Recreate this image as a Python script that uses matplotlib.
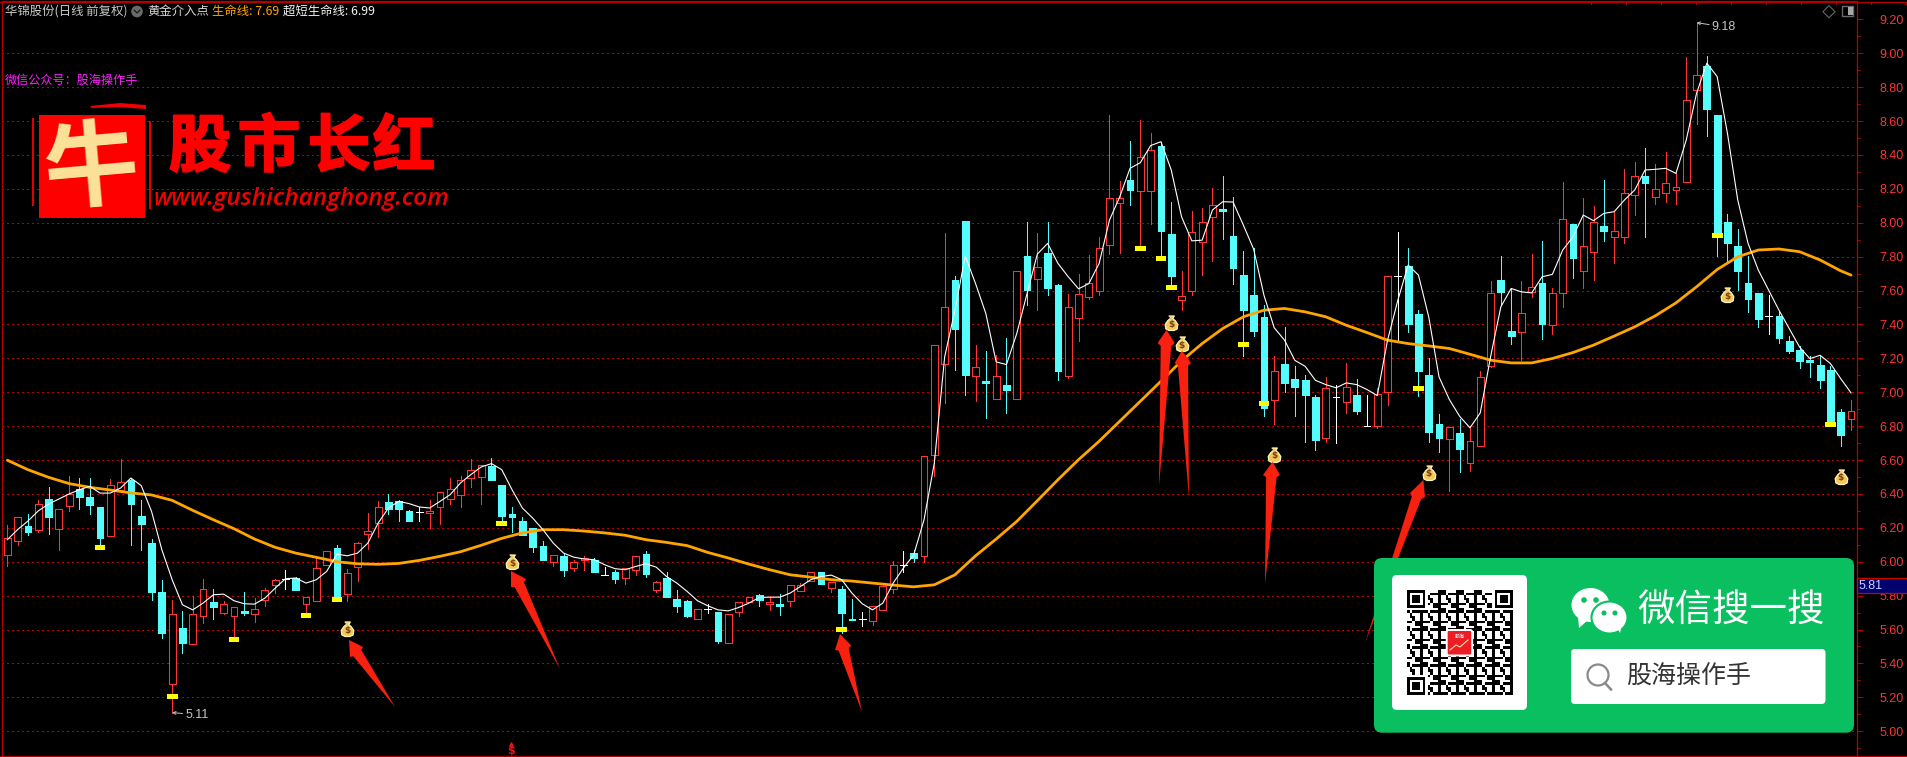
import matplotlib
matplotlib.use("Agg")
import matplotlib.pyplot as plt
import numpy as np
from matplotlib.patches import FancyBboxPatch, Polygon, Rectangle, Ellipse, Circle
from matplotlib.ticker import MultipleLocator, FormatStrFormatter
import matplotlib.patheffects as pe

CJK = ['Noto Sans CJK SC', 'DejaVu Sans']
plt.rcParams['font.family'] = CJK

# ---------- candle data (price values) ----------
candle_kind = ("RRCRCRRCCC" "RRCCCCRCRR" "CRRCRRRWCR" "RRCRRRRCCC" "WRRRRRRCCC"
               "CCCRCRRCWC" "RRCRCCCRWC" "RRRCRCRRRC" "RCCWRRRWCR" "RRCCRCRCRC"
               "RCCRRRRRRC" "RRCCRRRRCC" "CCCRCCCCRW" "RCWRRWCCCC" "RCRRRCCRRC"
               "RRCRRCRRRC" "RRRRRCCCCC" "CWCCCCCCCR")
body_high = [6.138,6.264,6.213,6.34,6.372,6.311,6.40,6.429,6.384,6.325,
             6.451,6.47,6.484,6.272,6.112,5.823,5.691,5.61,5.691,5.84,
             5.764,5.75,5.732,5.708,5.72,5.833,5.892,5.90,5.904,5.791,
             5.963,6.063,6.083,5.933,6.11,6.179,6.323,6.352,6.356,6.301,
             6.293,6.30,6.411,6.429,6.482,6.541,6.571,6.563,6.455,6.282,
             6.242,6.199,6.095,6.04,6.036,5.996,6.02,6.012,5.92,5.941,
             5.961,6.032,6.045,5.88,5.906,5.782,5.766,5.72,5.724,5.705,
             5.691,5.762,5.791,5.803,5.762,5.75,5.862,5.862,5.939,5.939,
             5.882,5.841,5.664,5.662,5.736,5.854,5.98,5.98,6.053,6.624,
             7.281,7.50,7.661,8.01,7.149,7.065,7.098,7.045,7.714,7.803,
             7.74,7.819,7.632,7.50,7.582,7.647,7.848,8.143,8.143,8.252,
             8.39,8.431,8.453,7.933,7.57,7.943,8.002,8.102,8.08,7.921,
             7.691,7.572,7.442,7.123,7.169,7.08,7.075,6.973,7.026,6.973,
             7.032,6.986,6.801,6.992,7.687,7.687,7.746,7.461,7.10,6.815,
             6.795,6.76,6.713,7.087,7.583,7.662,7.36,7.47,7.618,7.642,
             7.583,8.02,7.992,7.86,8.002,7.98,7.949,8.173,8.274,8.276,
             8.201,8.232,8.209,8.722,8.87,8.925,8.636,8.004,7.862,7.644,
             7.583,7.447,7.449,7.301,7.252,7.19,7.16,7.13,6.886,6.888]
body_low = [6.04,6.12,6.173,6.19,6.266,6.193,6.327,6.384,6.333,6.138,
            6.15,6.421,6.343,6.224,5.823,5.58,5.276,5.521,5.515,5.677,
            5.734,5.70,5.677,5.70,5.691,5.775,5.86,5.90,5.835,5.75,
            5.766,5.978,5.791,5.807,5.967,6.161,6.228,6.313,6.313,6.242,
            6.293,6.29,6.321,6.368,6.392,6.492,6.498,6.482,6.272,6.266,
            6.158,6.087,6.012,5.996,5.953,5.961,6.01,5.937,5.92,5.896,
            5.902,5.951,5.927,5.835,5.793,5.74,5.681,5.66,5.724,5.534,
            5.52,5.703,5.76,5.774,5.748,5.74,5.766,5.829,5.886,5.866,
            5.847,5.695,5.654,5.662,5.648,5.717,5.839,5.98,6.024,6.032,
            6.628,7.169,7.372,7.10,7.098,7.055,6.96,7.016,6.96,7.602,
            7.669,7.616,7.125,7.096,7.44,7.559,7.598,7.87,8.118,8.193,
            8.189,8.189,7.95,7.685,7.545,7.60,7.887,8.031,8.07,7.734,
            7.484,7.362,6.908,6.953,7.055,7.032,6.986,6.717,6.729,6.973,
            6.941,6.892,6.801,6.799,7.0,7.687,7.401,7.126,6.764,6.728,
            6.725,6.664,6.583,6.681,7.156,7.591,7.333,7.356,7.593,7.402,
            7.398,7.583,7.793,7.718,7.829,7.951,7.917,7.917,8.161,8.236,
            8.15,8.173,8.191,8.242,8.781,8.673,7.947,7.882,7.717,7.551,
            7.431,7.447,7.319,7.244,7.185,7.18,7.07,6.831,6.746,6.843]
wick_high = [6.217,6.264,6.282,6.364,6.443,6.311,6.506,6.496,6.496,6.325,
             6.49,6.606,6.494,6.366,6.136,5.894,5.776,5.71,5.799,5.90,
             5.84,5.766,5.732,5.823,5.785,5.845,5.898,5.953,5.91,5.791,
             6.022,6.063,6.10,5.957,6.116,6.288,6.356,6.40,6.364,6.305,
             6.323,6.364,6.411,6.496,6.508,6.606,6.571,6.614,6.455,6.325,
             6.266,6.199,6.122,6.04,6.051,6.012,6.032,6.022,5.969,5.953,
             5.961,6.032,6.065,5.888,5.937,5.835,5.772,5.72,5.75,5.705,
             5.691,5.762,5.791,5.811,5.799,5.811,5.862,5.874,5.939,5.939,
             5.882,5.854,5.782,5.705,5.74,5.854,6.002,6.065,6.071,6.624,
             7.281,7.937,7.683,8.01,7.277,7.242,7.222,7.32,7.714,8.002,
             7.937,8.002,7.641,7.578,7.695,7.807,7.913,8.636,8.246,8.482,
             8.604,8.527,8.478,8.122,7.716,8.071,8.084,8.202,8.275,8.153,
             7.832,7.848,7.513,7.212,7.382,7.153,7.10,6.986,7.09,7.04,
             7.175,7.08,6.986,7.026,7.687,7.945,7.85,7.484,7.199,6.874,
             6.795,6.843,6.799,7.126,7.656,7.803,7.612,7.656,7.815,7.892,
             7.612,8.24,7.992,8.146,8.098,8.252,8.065,8.317,8.356,8.441,
             8.346,8.417,8.291,8.978,9.18,8.984,8.636,8.051,7.962,7.803,
             7.583,7.573,7.474,7.331,7.272,7.213,7.213,7.153,6.902,6.957]
wick_low = [5.973,6.097,6.156,6.173,6.165,6.067,6.297,6.313,6.283,6.09,
            6.15,6.421,6.10,6.067,5.772,5.553,5.11,5.464,5.515,5.638,
            5.663,5.691,5.547,5.683,5.642,5.736,5.815,5.839,5.835,5.687,
            5.766,5.978,5.791,5.766,5.884,6.075,6.144,6.283,6.238,6.238,
            6.242,6.20,6.224,6.343,6.325,6.443,6.343,6.482,6.238,6.173,
            6.158,6.055,6.012,5.973,5.914,5.943,5.953,5.937,5.92,5.872,
            5.866,5.923,5.909,5.823,5.793,5.705,5.675,5.66,5.697,5.522,
            5.524,5.681,5.76,5.74,5.713,5.685,5.736,5.829,5.886,5.866,
            5.823,5.577,5.654,5.622,5.624,5.717,5.813,5.937,5.996,5.998,
            6.504,6.937,7.13,6.986,6.947,6.846,6.96,6.878,6.96,7.513,
            7.484,7.572,7.07,7.084,7.303,7.551,7.572,7.815,7.822,8.104,
            7.848,7.992,7.789,7.622,7.484,7.572,7.69,7.775,7.903,7.641,
            7.212,7.33,6.862,6.815,7.0,6.858,6.705,6.662,6.705,6.70,
            6.878,6.874,6.801,6.788,6.927,7.30,7.356,6.977,6.705,6.646,
            6.416,6.528,6.534,6.681,7.15,7.52,7.284,7.193,7.563,7.313,
            7.343,7.504,7.675,7.616,7.661,7.892,7.764,7.882,8.045,7.917,
            8.11,8.122,8.11,8.242,8.583,8.514,7.805,7.77,7.602,7.474,
            7.386,7.346,7.291,7.232,7.144,7.09,7.026,6.80,6.685,6.78]
short_line = [6.13,6.19,6.24,6.30,6.34,6.37,6.40,6.425,6.445,6.405,
              6.405,6.435,6.494,6.449,6.297,6.071,5.894,5.746,5.716,5.756,
              5.805,5.809,5.77,5.752,5.75,5.785,5.844,5.90,5.904,5.874,
              5.894,5.943,6.045,6.035,6.051,6.11,6.228,6.317,6.356,6.343,
              6.323,6.317,6.356,6.396,6.465,6.514,6.559,6.579,6.543,6.425,
              6.317,6.258,6.189,6.11,6.051,6.027,6.016,6.012,5.982,5.959,
              5.953,5.972,5.988,5.968,5.913,5.874,5.825,5.77,5.74,5.716,
              5.71,5.73,5.756,5.789,5.791,5.791,5.815,5.854,5.894,5.913,
              5.921,5.894,5.815,5.752,5.716,5.756,5.874,5.963,6.041,6.248,
              6.583,7.208,7.484,7.803,7.641,7.464,7.179,7.163,7.346,7.582,
              7.815,7.878,7.76,7.681,7.61,7.641,7.76,8.015,8.153,8.321,
              8.354,8.455,8.478,8.311,8.035,7.893,7.897,8.075,8.124,8.122,
              7.986,7.844,7.572,7.38,7.307,7.188,7.153,7.07,7.045,7.026,
              7.055,7.045,7.016,6.98,7.307,7.543,7.75,7.691,7.444,7.09,
              6.957,6.858,6.79,6.878,7.208,7.504,7.612,7.592,7.586,7.681,
              7.695,7.838,7.917,8.045,8.012,8.055,8.065,8.134,8.193,8.311,
              8.315,8.321,8.291,8.488,8.764,8.941,8.862,8.527,8.134,7.878,
              7.72,7.602,7.484,7.376,7.267,7.198,7.218,7.169,7.08,6.996]
life_index = list(range(0, 180, 2)) + [179]
life_line = [6.599,6.543,6.498,6.461,6.439,6.423,6.406,6.394,6.362,6.303,
             6.248,6.195,6.134,6.085,6.051,6.026,6.0,5.988,5.985,5.99,
             6.008,6.032,6.059,6.097,6.138,6.17,6.189,6.189,6.181,6.17,
             6.156,6.13,6.114,6.095,6.055,6.022,5.986,5.953,5.923,5.909,
             5.894,5.886,5.874,5.862,5.852,5.864,5.923,6.035,6.134,6.238,
             6.36,6.484,6.602,6.711,6.829,6.947,7.065,7.185,7.287,7.376,
             7.445,7.484,7.494,7.474,7.445,7.395,7.352,7.307,7.287,7.273,
             7.258,7.224,7.189,7.173,7.173,7.199,7.234,7.278,7.331,7.386,
             7.451,7.527,7.622,7.724,7.799,7.839,7.845,7.829,7.78,7.716,7.691]
yellow_index = [9,16,22,29,32,48,81,110,112,113,120,122,137,166,177]
yellow_value = [6.083,5.203,5.539,5.681,5.776,6.228,5.599,7.848,7.789,7.618,7.281,6.933,7.022,7.925,6.811]
bag_index = [33,49,113,114,123,138,167,178]
bag_value = [5.595,5.992,7.402,7.277,6.626,6.518,7.567,6.494]
title_items = ["华锦股份(日线 前复权)", "黄金介入点", "生命线: 7.69", "超短生命线: 6.99"]

W, H = 1908, 757
RED = '#FF3434'
CYAN = '#54FCFC'
AXRED = '#B00000'
fig = plt.figure(figsize=(W/100, H/100), dpi=100, facecolor='black')
L, R, T, B = 2.4, 1857.5, 1.5, 756.0
ax = fig.add_axes([L/W, 1-B/H, (R-L)/W, (B-T)/H], facecolor='black', zorder=1)
ax.set_xlim((L-7.35)/10.3, (R-7.35)/10.3)
ax.set_ylim(4.854, 9.305)
ax.xaxis.set_visible(False)
ax.yaxis.tick_right()
ax.yaxis.set_major_locator(MultipleLocator(0.2))
ax.yaxis.set_minor_locator(MultipleLocator(0.1))
ax.yaxis.set_major_formatter(FormatStrFormatter('%.2f'))
ax.tick_params(axis='y', which='major', length=4.3, width=0.72, color=AXRED, pad=11.5,
               labelcolor=RED, labelsize=9)
ax.tick_params(axis='y', which='minor', length=1.8, width=0.72, color=AXRED)
for lab in ax.get_yticklabels():
    lab.set_fontfamily('Liberation Sans')
for s in ax.spines.values():
    s.set_color(AXRED)
    s.set_linewidth(0.9)

for v in np.arange(5.0, 9.01, 0.2):
    ax.axhline(v, color='#B80000', lw=0.72, ls=(0, (1.2, 3.2)), zorder=1, antialiased=False)

idx = np.arange(len(body_high))
bw = 0.66
for i, k, bh, bl, wh, wl in zip(idx, candle_kind, body_high, body_low, wick_high, wick_low):
    if k == 'W':
        ax.vlines(i, wl, wh, color='white', lw=0.72, zorder=3, antialiased=False)
        ax.hlines(bh, i-bw/2, i+bw/2, color='white', lw=0.72, zorder=3, antialiased=False)
    elif k == 'C':
        ax.vlines(i, wl, wh, color=CYAN, lw=0.72, zorder=3, antialiased=False)
        ax.add_patch(Rectangle((i-bw/2, bl), bw, max(bh-bl, 0.008), fc=CYAN, ec=CYAN, lw=0.5,
                               zorder=4, antialiased=False))
    else:
        ax.vlines(i, wl, bl, color=RED, lw=0.72, zorder=3, antialiased=False)
        ax.vlines(i, bh, wh, color=RED, lw=0.72, zorder=3, antialiased=False)
        ax.add_patch(Rectangle((i-bw/2, bl), bw, max(bh-bl, 0.008), fc='black', ec=RED, lw=0.72,
                               zorder=4, antialiased=False))

ax.bar(yellow_index, [0.03]*len(yellow_index), bottom=[v-0.015 for v in yellow_value],
       width=1.05, color='#FFFF00', zorder=5)
ax.plot(life_index, life_line, color='#FFA500', lw=2.0, zorder=6, solid_capstyle='round', solid_joinstyle='round')
ax.plot(idx, short_line, color='white', lw=0.8, zorder=7)

# money bags
bag = np.array([(-.45,1.35),(.45,1.35),(.2,.95),(.6,.6),(1,0),(.9,-.7),(.4,-.95),(-.4,-.95),
                (-.9,-.7),(-1,0),(-.6,.6),(-.2,.95)])
ax.scatter(bag_index, bag_value, marker=bag, s=150, facecolor='#F3C85A', edgecolor='#FFF4B8',
           linewidth=0.9, zorder=9)
for i, v in zip(bag_index, bag_value):
    ax.text(i, v, '$', color='#7A3E10', fontsize=6.5, fontweight='bold', ha='center', va='center',
            family='DejaVu Sans', zorder=10)

# extreme labels
GREY = '#C4C4C4'
ax.annotate('5.11', xy=(16, 5.11), xytext=(9.5, -1.5), textcoords='offset points', color=GREY,
            fontsize=9, family='Liberation Sans', va='center',
            arrowprops=dict(arrowstyle='->', color=GREY, lw=0.7, shrinkA=0, shrinkB=0, mutation_scale=5), zorder=9)
ax.annotate('9.18', xy=(164, 9.18), xytext=(11, -3), textcoords='offset points', color=GREY,
            fontsize=9, family='Liberation Sans', va='center',
            arrowprops=dict(arrowstyle='->', color=GREY, lw=0.7, shrinkA=0, shrinkB=0, mutation_scale=5), zorder=9)

# ---------- overlay in pixel coordinates ----------
ov = fig.add_axes([0, 0, 1, 1], zorder=2)
ov.set_xlim(0, W)
ov.set_ylim(H, 0)
ov.axis('off')
ov.patch.set_alpha(0)

# frame lines continue across the price scale
ov.plot([0, W], [1.5, 1.5], color=AXRED, lw=0.9)
ov.plot([0, W], [756, 756], color=AXRED, lw=0.9)
for x in np.arange(1591.5, W, 35):
    ov.plot([x, x], [1.5, 4], color=AXRED, lw=0.8)

# header
def head(x, s, c):
    ov.text(x, 11.5, s, color=c, fontsize=8.9, va='center', ha='left', family=CJK)
head(5, title_items[0], '#C8C8C8')
ov.add_patch(Circle((137, 11.5), 5.8, fc='#6A6A6A', ec='none'))
ov.plot([134.2, 137, 139.8], [10.2, 13, 10.2], color='#111111', lw=0.8)
head(147, title_items[1], '#D8D8D8')
head(212, title_items[2], '#FFA500')
head(283, title_items[3], '#F0F0F0')
ov.text(5, 80, "微信公众号：股海操作手", color='#FF20FF', fontsize=8.7, va='center', ha='left', family=CJK)

# top right buttons
ov.scatter([1829], [11.7], marker='D', s=38, facecolor='none', edgecolor='#666666', linewidth=0.8)
ov.add_patch(Rectangle((1842.3, 6), 11, 10, fc='none', ec='#6A6A6A', lw=1))
ov.add_patch(Rectangle((1848, 7), 4.8, 8, fc='#A8A8A8', ec='none'))

# logo
ov.add_patch(Rectangle((39, 115), 106, 103, fc='#FF0000', ec='none'))
ov.add_patch(Rectangle((32.5, 118), 2, 88, fc='#E00000', ec='none'))
ov.add_patch(Rectangle((149, 121), 2.5, 88, fc='#E00000', ec='none'))
ov.add_patch(Polygon([(90, 106), (120, 103), (146, 105), (146, 109), (118, 107), (92, 108)], fc='#F00000', ec='none'))
ov.text(91, 171, "牛", color='#FBE39A', fontsize=68, fontweight='bold', ha='center', va='center',
        family=CJK, rotation=5)
for cx, ch in zip((200, 269, 339, 404), "股市长红"):
    t = ov.text(cx, 148, ch, color='#FF0000', fontsize=45, fontweight='bold', ha='center', va='center', family=CJK)
    t.set_path_effects([pe.withStroke(linewidth=1.5, foreground='#FF0000')])
ov.text(302, 199, "www.gushichanghong.com", color='#F00000', fontsize=17.6, style='italic', fontweight=600,
        ha='center', va='center', family='Open Sans')

# red arrows
def arrow(tip, br, tail, bl):
    tip, br, tail, bl = map(np.array, (tip, br, tail, bl))
    mid = (br + bl) / 2
    nr = mid + 0.62*(br-mid) + 0.02*(tail-mid)
    nl = mid + 0.62*(bl-mid) + 0.02*(tail-mid)
    ov.add_patch(Polygon([tip, br, nr, tail, nl, bl], fc='#F8200F', ec='none', zorder=5))
arrow((349, 640), (363, 647), (395, 707), (350, 657))
arrow((511, 571), (526, 579), (560, 669), (511, 587))
arrow((840, 634), (851.4, 645.7), (862, 712), (835, 650))
arrow((1166.5, 330), (1174.7, 343), (1159, 485.7), (1157.6, 343))
arrow((1182, 350.7), (1191, 363), (1189, 498), (1174.7, 363))
arrow((1272.6, 461.7), (1280, 475), (1265, 584), (1263, 475))
arrow((1423.4, 480), (1425, 497), (1365, 643), (1410, 493))

# bottom S marker
ov.text(511, 751, "$", color='#F01010', fontsize=8, fontweight='bold', ha='center', va='center', family='DejaVu Sans')
ov.scatter([511], [743.5], marker='^', s=6, color='#F01010')

# last price box
ov.add_patch(Rectangle((1857.5, 578), 51, 15, fc='#00006E', ec='#D00000', lw=0.9, zorder=6))
ov.text(1859, 585.8, "5.81", color='#C8D0FF', fontsize=9, va='center', ha='left', family='Liberation Sans', zorder=7)

# WeChat card
GREEN = '#0ABF5F'
ov.add_patch(FancyBboxPatch((1374, 558), 480, 174.7, boxstyle='round,pad=0,rounding_size=8', fc=GREEN, ec='none', zorder=8))
ov.add_patch(FancyBboxPatch((1392, 575), 135, 135, boxstyle='round,pad=0,rounding_size=5', fc='white', ec='none', zorder=9))
ov.add_patch(FancyBboxPatch((1571, 649), 254.5, 55, boxstyle='round,pad=0,rounding_size=4', fc='white', ec='none', zorder=9))
# bubbles
ov.add_patch(Ellipse((1590.5, 605), 38, 34, fc='white', ec='none', zorder=9))
ov.add_patch(Polygon([(1578, 617), (1579, 628), (1588, 620)], fc='white', ec='none', zorder=9))
ov.add_patch(Ellipse((1609.5, 617.5), 36, 32, fc='white', ec=GREEN, lw=1.5, zorder=10))
ov.add_patch(Polygon([(1617, 628), (1620, 633), (1622, 624)], fc='white', ec='none', zorder=10))
ov.scatter([1584, 1596, 1604, 1615], [600, 600, 613, 613], s=[9, 9, 7, 7],
           color=[GREEN, GREEN, GREEN, GREEN], zorder=11)
ov.text(1731, 610, "微信搜一搜", color='white', fontsize=27, ha='center', va='center', family=CJK, zorder=10)
ov.add_patch(Circle((1598, 675), 10.5, fc='none', ec='#8A8A8A', lw=1.6, zorder=10))
ov.plot([1605, 1611], [683, 689.5], color='#8A8A8A', lw=1.8, zorder=10)
ov.text(1626, 676, "股海操作手", color='#333333', fontsize=18, ha='left', va='center', family=CJK, zorder=10)

# QR-style pattern
n = 41
grid = np.zeros((n, n), dtype=int)
for r in range(n):
    for c in range(n):
        grid[r, c] = ((r*r*7 + c*c*11 + r*c*5 + 3*r + c) % 7) in (0, 1, 3)
def finder(r0, c0):
    grid[max(r0-1, 0):min(r0+8, n), max(c0-1, 0):min(c0+8, n)] = 0
    grid[r0:r0+7, c0:c0+7] = 1
    grid[r0+1:r0+6, c0+1:c0+6] = 0
    grid[r0+2:r0+5, c0+2:c0+5] = 1
finder(0, 0); finder(0, n-7); finder(n-7, 0)
qr = fig.add_axes([1407/W, 1-695/H, 105/W, 105/H], zorder=2.5)
qr.imshow(1-grid, cmap='gray', vmin=0, vmax=1, interpolation='nearest', aspect='auto')
qr.axis('off')
# logo icon sits above the code
top = fig.add_axes([0, 0, 1, 1], zorder=3)
top.set_xlim(0, W); top.set_ylim(H, 0); top.axis('off'); top.patch.set_alpha(0)
top.add_patch(FancyBboxPatch((1446.7, 630), 25.5, 25.5, boxstyle='round,pad=0,rounding_size=2', fc='#EE1C25', ec='white', lw=1.4))
top.plot([1450, 1456, 1460, 1468], [650, 645, 647, 640], color='#F5E5A0', lw=0.8)
top.text(1459.5, 636, "股海", color='white', fontsize=3.6, ha='center', va='center', family=CJK)

fig.savefig('out.png', dpi=100, facecolor='black')
